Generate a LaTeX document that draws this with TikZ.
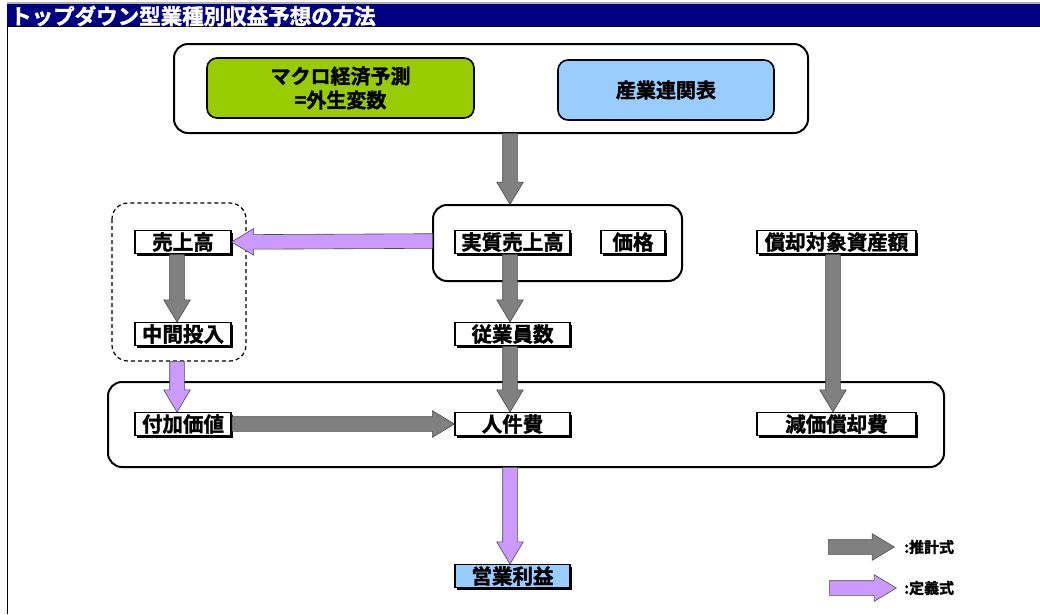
\documentclass[tikz,border=0pt]{standalone}
\usepackage{fontspec}
\setmainfont{Noto Sans CJK JP}[BoldFont={* Bold}, BoldFeatures={FakeBold=1.6}]
\usetikzlibrary{calc,shapes.arrows,shadows}
\definecolor{navy}{HTML}{000080}
\definecolor{lime}{HTML}{99CC00}
\definecolor{sky}{HTML}{99CCFF}
\definecolor{violet}{HTML}{CC99FF}
\definecolor{grayarr}{HTML}{808080}
\newcommand{\fatarrow}[3]{%
  \path let \p1=(#2), \p2=(#3), \n1={atan2(\y2-\y1,\x2-\x1)}, \n2={veclen(\x2-\x1,\y2-\y1)} in
    node[single arrow, draw=black!70, line width=0.6pt, fill=#1, inner xsep=0pt, inner ysep=7pt,
         single arrow head extend=6pt, single arrow tip angle=62, minimum height=\n2,
         rotate=\n1, anchor=tail] at (\p1) {};}
\tikzset{
  lbl/.style={draw=black, line width=1.6pt, fill=white, inner sep=0pt, minimum height=23pt,
    font=\bfseries\fontsize{20.5}{21}\selectfont,
    drop shadow={shadow xshift=2pt, shadow yshift=-2pt, opacity=1, fill=black}},
  group/.style={draw=black, line width=2pt, rounded corners=14pt},
  inner/.style={draw=black, line width=1.6pt, rounded corners=10pt, align=center,
    font=\bfseries\fontsize{20}{24}\selectfont},
  legend/.style={font=\bfseries\fontsize{15}{16}\selectfont, anchor=west, inner sep=0pt}
}
\begin{document}
\begin{tikzpicture}[x=1pt,y=-1pt]
\useasboundingbox (0,0) rectangle (1040,614);
\fill[white] (0,0) rectangle (1040,614);
% title bar
\fill[gray!60] (7,2) rectangle (1040,4);
\fill[navy] (7,4) rectangle (1040,26);
\draw[black, line width=1.2pt] (7,26.5) -- (1040,26.5);
\draw[black, line width=1.2pt] (7.5,26) -- (7.5,614);
\node[anchor=west, text=white, font=\bfseries\fontsize{21.5}{22}\selectfont, inner sep=0pt] (title) at (10,16) {トップダウン型業種別収益予想の方法};
% top group
\draw[group] (174,44) rectangle (808,133);
\node[inner, fill=lime, minimum width=267pt, minimum height=60pt] (macro) at (340.5,88) {マクロ経済予測\\=外生変数};
\node[inner, fill=sky, minimum width=216pt, minimum height=60pt] (io) at (666,90) {産業連関表};
\coordinate (topout) at (510,133);
% middle group
\draw[group] (433,205) rectangle (682,281);
\coordinate (midin) at (510,204);
\coordinate (midleft) at (433,241);
% dashed group
\draw[black, line width=1.2pt, dash pattern=on 4pt off 3pt, rounded corners=16pt] (112,203) rectangle (246,361);
\coordinate (dashbot) at (177,361);
% bottom group
\draw[group] (108,382) rectangle (944,467);
\coordinate (botout) at (510,467);
% labels
\node[lbl, minimum width=96pt] (uri) at (183,242) {売上高};
\node[lbl, minimum width=96pt] (chukan) at (183,334) {中間投入};
\node[lbl, minimum width=115pt] (jisshitsu) at (512.5,242) {実質売上高};
\node[lbl, minimum width=64pt] (kakaku) at (633,242) {価格};
\node[lbl, minimum width=159pt] (shokyaku) at (836.5,242) {償却対象資産額};
\node[lbl, minimum width=115pt] (jugyo) at (512.5,334) {従業員数};
\node[lbl, minimum width=96pt] (fuka) at (183,424) {付加価値};
\node[lbl, minimum width=115pt] (jinken) at (512.5,424) {人件費};
\node[lbl, minimum width=159pt] (genka) at (836.5,424) {減価償却費};
\node[lbl, fill=sky, minimum width=115pt] (eigyo) at (512.5,576) {営業利益};
% arrows
\fatarrow{grayarr}{topout}{midin}
\fatarrow{violet}{midleft}{uri.east}
\fatarrow{grayarr}{uri.south -| dashbot}{chukan.north -| dashbot}
\fatarrow{grayarr}{jisshitsu.south -| topout}{jugyo.north -| topout}
\fatarrow{grayarr}{jugyo.south -| topout}{jinken.north -| topout}
\fatarrow{grayarr}{shokyaku.south -| 833,0}{genka.north -| 833,0}
\fatarrow{violet}{dashbot}{fuka.north -| dashbot}
\fatarrow{grayarr}{fuka.east}{jinken.west}
\fatarrow{violet}{botout}{eigyo.north -| botout}
% legend
\coordinate (lg1a) at (828,547);
\coordinate (lg1b) at (894,547);
\coordinate (lg2a) at (829,588);
\coordinate (lg2b) at (896,588);
\fatarrow{grayarr}{lg1a}{lg1b}
\fatarrow{violet}{lg2a}{lg2b}
\node[legend] (l1) at (904,547) {:推計式};
\node[legend] (l2) at (904,588) {:定義式};
\end{tikzpicture}
\end{document}
